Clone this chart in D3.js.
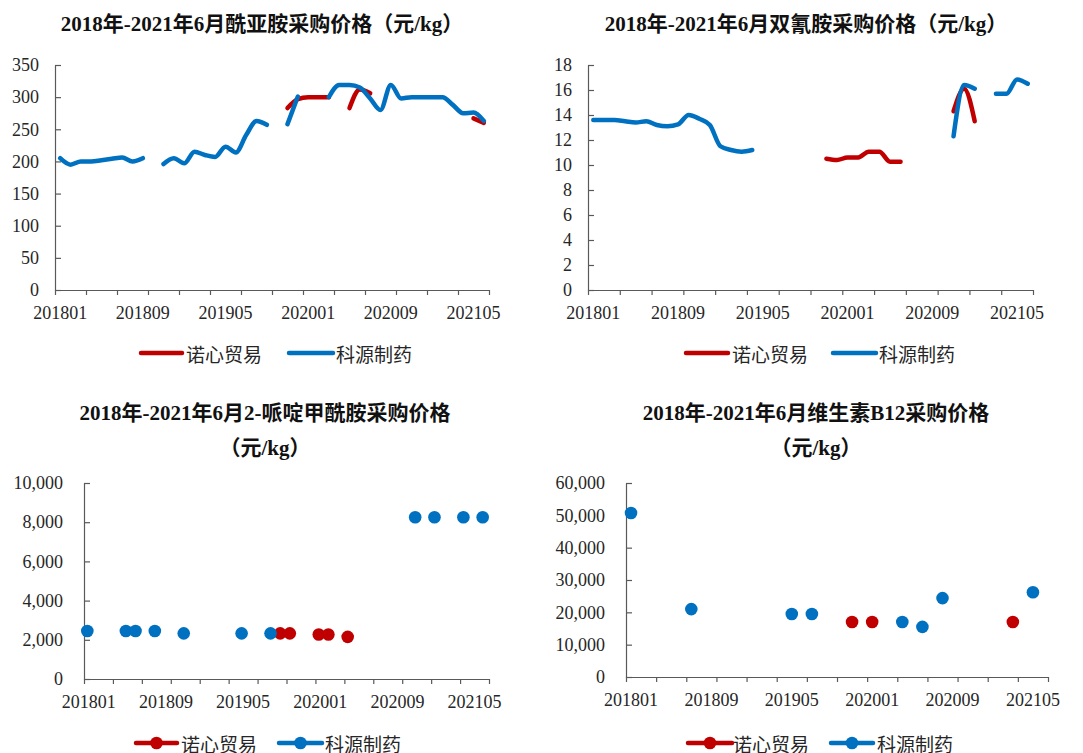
<!DOCTYPE html>
<html><head><meta charset="utf-8">
<script src="https://cdn.jsdelivr.net/npm/d3@7"></script>
<style>body{margin:0;background:#fff} svg{display:block}</style>
</head><body><svg id="c" width="1083" height="753"></svg>
<script>
const months = [
 "201801","201802","201803","201804","201805","201806",
 "201807","201808","201809","201810","201811","201812",
 "201901","201902","201903","201904","201905","201906",
 "201907","201908","201909","201910","201911","201912",
 "202001","202002","202003","202004","202005","202006",
 "202007","202008","202009","202010","202011","202012",
 "202101","202102","202103","202104","202105","202106"];
const xLabels = ["201801","201809","201905","202001","202009","202105"];
const seriesNames = ["诺心贸易","科源制药"];
const seriesColors = ["#C00000","#0070C0"];

// 酰亚胺 (yuan/kg)
const imideNuoxin = [
 null,null,null,null,null,null,
 null,null,null,null,null,null,
 null,null,null,null,null,null,
 null,null,null,null,283,297,
 300,300,300,null,283,312,
 306,null,null,null,null,null,
 null,null,null,null,267,260];
const imideKeyuan = [
 205,195,200,200,202,204,
 206,200,205,null,196,205,
 197,215,210,207,223,214,
 241,263,257,null,258,301,
 null,null,300,319,319,315,
 298,280,319,298,300,300,
 300,300,288,275,276,263];

// 双氰胺
const dicyNuoxin = [
 null,null,null,null,null,null,
 null,null,null,null,null,null,
 null,null,null,null,null,null,
 null,null,null,null,10.5,10.4,
 10.6,10.6,11.07,11.07,10.27,10.27,
 null,null,null,null,14.3,16.1,
 13.5,null,null,null,null,null];
const dicyKeyuan = [
 13.6,13.6,13.6,13.5,13.4,13.5,
 13.2,13.1,13.25,14.0,13.7,13.2,
 11.5,11.2,11.07,11.2,null,null,
 null,null,null,null,null,null,
 null,null,null,null,null,null,
 null,null,null,null,12.3,16.4,
 16.1,null,15.7,15.7,16.85,16.5];

// 2-哌啶甲酰胺
const piperNuoxin = [
 null,null,null,null,null,null,
 null,null,null,null,null,null,
 null,null,null,null,null,null,
 null,null,2330,2330,null,null,
 2270,2270,null,2150,null,null,
 null,null,null,null,null,null,
 null,null,null,null,null,null];
const piperKeyuan = [
 2450,null,null,null,2450,2450,
 null,2450,null,null,2330,null,
 null,null,null,null,2330,null,
 null,2330,null,null,null,null,
 null,null,null,null,null,null,
 null,null,null,null,8250,null,
 8250,null,null,8250,null,8250];

// 维生素B12
const b12Nuoxin = [
 null,null,null,null,null,null,
 null,null,null,null,null,null,
 null,null,null,null,null,null,
 null,null,null,null,17000,null,
 17000,null,null,null,null,null,
 null,null,null,null,null,null,
 null,null,17000,null,null,null];
const b12Keyuan = [
 50700,null,null,null,null,null,
 21000,null,null,null,null,null,
 null,null,null,null,19500,null,
 19500,null,null,null,null,null,
 null,null,null,17000,null,15500,
 null,24400,null,null,null,null,
 null,null,null,null,26200,null];

const titles = [
 ["2018年-2021年6月酰亚胺采购价格（元/kg）"],
 ["2018年-2021年6月双氰胺采购价格（元/kg）"],
 ["2018年-2021年6月2-哌啶甲酰胺采购价格","（元/kg）"],
 ["2018年-2021年6月维生素B12采购价格","（元/kg）"]];

const svg = d3.select("#c");
const axisColor = "#595959", textColor = "#262626";
const serif = "'Liberation Serif','Times New Roman','Noto Sans CJK SC',serif";
const cjk = "'Noto Sans CJK SC','Noto Sans',sans-serif";

function drawChart(cfg) {
  const g = svg.append("g");
  const x = d3.scaleBand().domain(months).range([cfg.left, cfg.right]);
  const xi = d3.scaleLinear().domain([0, months.length]).range([cfg.left, cfg.right]);
  const y = d3.scaleLinear().domain([0, cfg.max]).range([cfg.bottom, cfg.top]);

  // title
  const t = g.append("text").attr("x", cfg.titleX).attr("text-anchor", "middle")
    .attr("font-family", serif).attr("font-weight", "bold").attr("font-size", 21).attr("fill", "#111");
  cfg.title.forEach((line, k) => {
    t.append("tspan").attr("x", cfg.titleX).attr("y", cfg.titleY + k * 35)
      .attr("dominant-baseline", "central").text(line);
  });

  // y axis
  const ya = g.append("g").attr("transform", `translate(${cfg.left},0)`)
    .call(d3.axisLeft(y).tickValues(d3.range(0, cfg.max + cfg.step / 2, cfg.step))
      .tickSize(-6).tickSizeOuter(0).tickPadding(cfg.ypad).tickFormat(cfg.fmt));
  ya.selectAll("path,line").attr("stroke", axisColor).attr("stroke-width", 1.2);
  ya.selectAll("text").attr("font-family", serif).attr("font-size", 18).attr("fill", textColor);

  // x tick marks every 3 months
  const xt = g.append("g").attr("transform", `translate(0,${cfg.bottom})`)
    .call(d3.axisBottom(xi).tickValues(d3.range(0, months.length + 1, 3)).tickSize(5).tickSizeOuter(0).tickFormat(""));
  xt.selectAll("path,line").attr("stroke", axisColor).attr("stroke-width", 1.2);

  // x labels
  const xl = g.append("g").attr("transform", `translate(0,${cfg.bottom})`)
    .call(d3.axisBottom(x).tickValues(xLabels).tickSize(0).tickPadding(16));
  xl.select(".domain").remove();
  xl.selectAll("text").attr("font-family", serif).attr("font-size", 18).attr("fill", textColor);

  const cx = (d, i) => x(months[i]) + x.bandwidth() / 2 + (cfg.dx || 0);
  const line = d3.line().defined(d => d != null).x(cx).y(d => y(d)).curve(d3.curveMonotoneX);

  cfg.series.forEach((s, k) => {
    g.append("path").datum(s).attr("d", line).attr("fill", "none")
      .attr("stroke", seriesColors[k]).attr("stroke-width", 4.5)
      .attr("stroke-linecap", "round").attr("stroke-linejoin", "round");
    if (cfg.markers) {
      g.selectAll(null).data(s.map((v, i) => ({v, i})).filter(d => d.v != null)).enter()
        .append("circle").attr("cx", d => cx(d.v, d.i)).attr("cy", d => y(d.v)).attr("r", 6.3)
        .attr("fill", seriesColors[k]);
    }
  });

  // legend
  cfg.legend.forEach((L, k) => {
    g.append("line").attr("x1", L.x1).attr("x2", L.x2).attr("y1", cfg.legendY).attr("y2", cfg.legendY)
      .attr("stroke", seriesColors[k]).attr("stroke-width", 4.5).attr("stroke-linecap", "round");
    if (cfg.markers) {
      g.append("circle").attr("cx", (L.x1 + L.x2) / 2).attr("cy", cfg.legendY).attr("r", 6.3).attr("fill", seriesColors[k]);
    }
    g.append("text").attr("x", L.tx).attr("y", cfg.legendY).attr("dominant-baseline", "central")
      .attr("font-family", cjk).attr("font-size", 19).attr("fill", textColor).text(seriesNames[k]);
  });
}

drawChart({left: 55, right: 489, top: 65, bottom: 290, max: 350, step: 50, ypad: 16,
  fmt: d3.format("d"), series: [imideNuoxin, imideKeyuan], markers: false,
  title: titles[0], titleX: 262, titleY: 24, legendY: 353,
  legend: [{x1: 141, x2: 182, tx: 186}, {x1: 289, x2: 333, tx: 336}]});

drawChart({left: 588, right: 1033, top: 65, bottom: 290, max: 18, step: 2, ypad: 16,
  fmt: d3.format("d"), series: [dicyNuoxin, dicyKeyuan], markers: false,
  title: titles[1], titleX: 806, titleY: 24, legendY: 353,
  legend: [{x1: 686, x2: 728, tx: 732}, {x1: 833, x2: 876, tx: 879}]});

drawChart({left: 84, right: 489, top: 483, bottom: 679, max: 10000, step: 2000, ypad: 21,
  fmt: d3.format(","), series: [piperNuoxin, piperKeyuan], markers: true, dx: -1.5,
  title: titles[2], titleX: 265, titleY: 413, legendY: 743,
  legend: [{x1: 136, x2: 177, tx: 181}, {x1: 279, x2: 322, tx: 325}]});

drawChart({left: 626, right: 1048, top: 483, bottom: 677, max: 60000, step: 10000, ypad: 21,
  fmt: d3.format(","), series: [b12Nuoxin, b12Keyuan], markers: true,
  title: titles[3], titleX: 816, titleY: 413, legendY: 743,
  legend: [{x1: 688, x2: 732, tx: 733}, {x1: 831, x2: 873, tx: 877}]});
</script>
</body></html>
